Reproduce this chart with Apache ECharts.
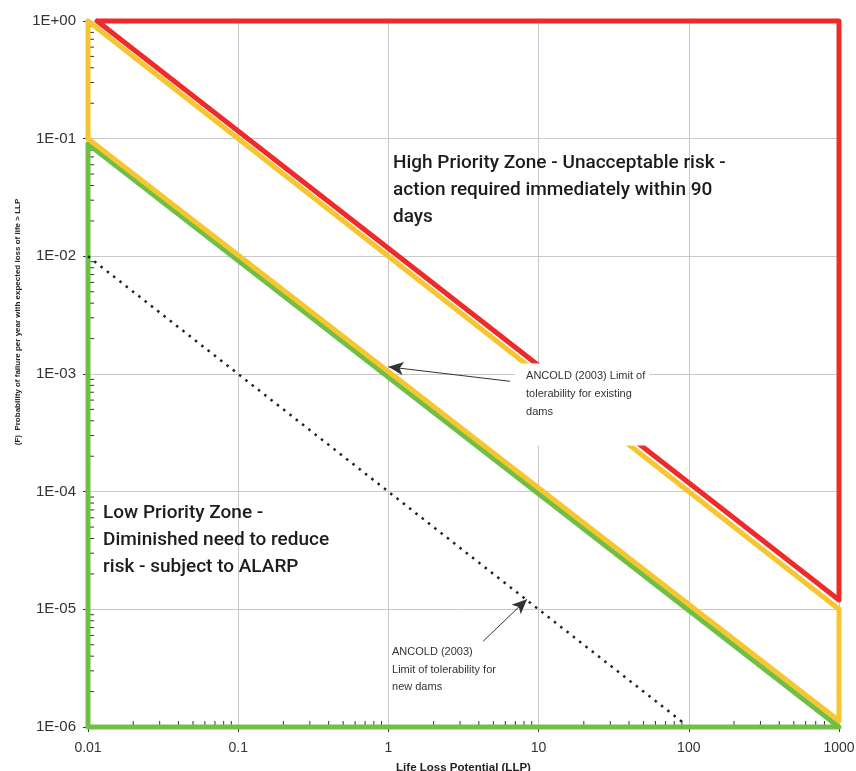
<!DOCTYPE html>
<html>
<head>
<meta charset="utf-8">
<script src="https://cdn.jsdelivr.net/npm/echarts@6/dist/echarts.min.js"></script>
<style>
html,body{margin:0;padding:0;background:#fff;}
#chart{width:856px;height:771px;}
</style>
</head>
<body>
<div id="chart"></div>
<script>
// ---- data ----
const xTickLabels = ['0.01', '0.1', '1', '10', '100', '1000'];
const yTickLabels = ['1E-06', '1E-05', '1E-04', '1E-03', '1E-02', '1E-01', '1E+00'];

// Unacceptable (red) boundary
const redZone = [[0.0115, 1], [1000, 1], [1000, 1.2e-5], [0.0115, 1]];
// ANCOLD limit for existing dams (yellow band edges)
const yellowZone = [[0.01, 0.1], [0.01, 1], [1000, 1e-5], [1000, 1.13e-6], [0.01, 0.1]];
// Low priority (green) boundary
const greenZone = [[0.01, 0.09], [0.01, 1e-6], [1000, 1e-6], [0.01, 0.09]];
// ANCOLD limit for new dams (dotted)
const newDamsLimit = [[0.01, 0.01], [90, 1.11e-6]];

// minor tick positions
const minorMultipliers = [2, 3, 4, 5, 6, 7, 8, 9];
const xDecades = [0.01, 0.1, 1, 10, 100];
const yDecades = [1e-6, 1e-5, 1e-4, 1e-3, 1e-2, 1e-1];

// annotation anchors (data coordinates)
const highText = { at: [1.073, 0.0804], text: 'High Priority Zone - Unacceptable risk -\naction required immediately within 90\ndays' };
const lowText = { at: [0.0126, 8.58e-5], text: 'Low Priority Zone -\nDiminished need to reduce\nrisk - subject to ALARP' };
const existingText = { at: [6.97, 1.23e-3], text: 'ANCOLD (2003) Limit of\ntolerability for existing\ndams' };
const newText = { at: [1.057, 5.14e-6], text: 'ANCOLD (2003)\nLimit of tolerability for\nnew dams' };
const existingArrow = [[6.45, 8.67e-4], [1.0, 1.15e-3]];
const newArrow = [[4.27, 5.35e-6], [8.37, 1.22e-5]];

// ---- build ----
const xMinor = [];
xDecades.forEach(d => minorMultipliers.forEach(m => xMinor.push([m * d, 1e-6])));
const yMinor = [];
yDecades.forEach(d => minorMultipliers.forEach(m => yMinor.push([0.01, m * d])));

const chart = echarts.init(document.getElementById('chart'), null, { renderer: 'canvas' });

function lineSeries(name, data, color, z) {
  return {
    name: name, type: 'line', data: data, showSymbol: false, symbol: 'none',
    clip: false, z: z, silent: true,
    lineStyle: { color: color, width: 5, join: 'round', cap: 'round' }
  };
}

function textItem(t, style) {
  return {
    value: t.at,
    itemStyle: { opacity: 1 },
    label: Object.assign({ show: true, opacity: 1, position: [0, 0], align: 'left', verticalAlign: 'top', formatter: t.text }, style)
  };
}

const bigStyle = { fontFamily: 'Roboto', fontWeight: 500, fontSize: 19, lineHeight: 27, color: '#1c1c1c' };
const smallFont = "'Liberation Sans', Arial, sans-serif";

const option = {
  backgroundColor: '#ffffff',
  animation: false,
  grid: { left: 88, right: 17, top: 21, bottom: 44, containLabel: false, outerBoundsMode: 'none' },
  xAxis: {
    type: 'log', logBase: 10, min: 0.01, max: 1000,
    name: 'Life Loss Potential (LLP)', nameLocation: 'middle', nameGap: 35,
    nameTextStyle: { fontFamily: smallFont, fontWeight: 'bold', fontSize: 11.5, color: '#222' },
    axisLine: { show: true, lineStyle: { color: '#666', width: 1 } },
    axisTick: { show: true, length: 5, lineStyle: { color: '#333' } },
    axisLabel: {
      fontFamily: smallFont, fontSize: 14, color: '#333', margin: 14,
      formatter: v => xTickLabels[Math.round(Math.log10(v)) + 2]
    },
    splitLine: { show: true, lineStyle: { color: '#c9c9c9', width: 1 } },
    minorTick: { show: false }
  },
  yAxis: {
    type: 'log', logBase: 10, min: 1e-6, max: 1,
    name: '(F)  Probability of failure per year with expected loss of life > LLP',
    nameLocation: 'middle', nameGap: 66, nameRotate: 90,
    nameTextStyle: { fontFamily: smallFont, fontWeight: 'bold', fontSize: 8, color: '#222', padding: [0, 0, 0, 104] },
    axisLine: { show: true, lineStyle: { color: '#666', width: 1 } },
    axisTick: { show: true, length: 5, lineStyle: { color: '#333' } },
    axisLabel: {
      fontFamily: smallFont, fontSize: 15, color: '#333', margin: 12,
      formatter: v => yTickLabels[Math.round(Math.log10(v)) + 6]
    },
    splitLine: { show: true, lineStyle: { color: '#c9c9c9', width: 1 } }
  },
  series: [
    {
      name: 'xMinorTicks', type: 'custom', data: xMinor, z: 1, silent: true, clip: false,
      renderItem: (params, api) => {
        const p = api.coord([api.value(0), api.value(1)]);
        return { type: 'line', shape: { x1: p[0], y1: p[1], x2: p[0], y2: p[1] - 6 }, style: { stroke: '#333', lineWidth: 1 } };
      }
    },
    {
      name: 'yMinorTicks', type: 'custom', data: yMinor, z: 1, silent: true, clip: false,
      renderItem: (params, api) => {
        const p = api.coord([api.value(0), api.value(1)]);
        return { type: 'line', shape: { x1: p[0], y1: p[1], x2: p[0] + 6, y2: p[1] }, style: { stroke: '#333', lineWidth: 1 } };
      }
    },
    lineSeries('Low priority', greenZone, '#6fbf45', 3),
    lineSeries('Existing dams limit', yellowZone, '#f6c52f', 4),
    lineSeries('Unacceptable', redZone, '#ee2a2b', 5),
    {
      name: 'New dams limit', type: 'line', data: newDamsLimit, showSymbol: false, symbol: 'none',
      clip: false, z: 6, silent: true,
      lineStyle: { color: '#222', width: 2.5, type: [2.5, 5.5] }
    },
    {
      name: 'annotations', type: 'scatter', symbolSize: 0, z: 10, silent: true,
      itemStyle: { opacity: 1 },
      data: [
        textItem(highText, bigStyle),
        textItem(lowText, bigStyle),
        textItem(existingText, { fontFamily: smallFont, fontSize: 11, lineHeight: 18, color: '#333',
          backgroundColor: '#ffffff', padding: [4, 4, 24, 11] }),
        textItem(newText, { fontFamily: smallFont, fontSize: 11, lineHeight: 17.5, color: '#333' })
      ],
      markLine: {
        silent: true, symbol: ['none', 'arrow'], symbolSize: [10, 15],
        label: { show: false },
        lineStyle: { color: '#333', width: 1, type: 'solid', opacity: 1 },
        data: [
          [{ coord: existingArrow[0] }, { coord: existingArrow[1] }],
          [{ coord: newArrow[0] }, { coord: newArrow[1] }]
        ]
      }
    }
  ]
};
chart.setOption(option);
</script>
</body>
</html>
